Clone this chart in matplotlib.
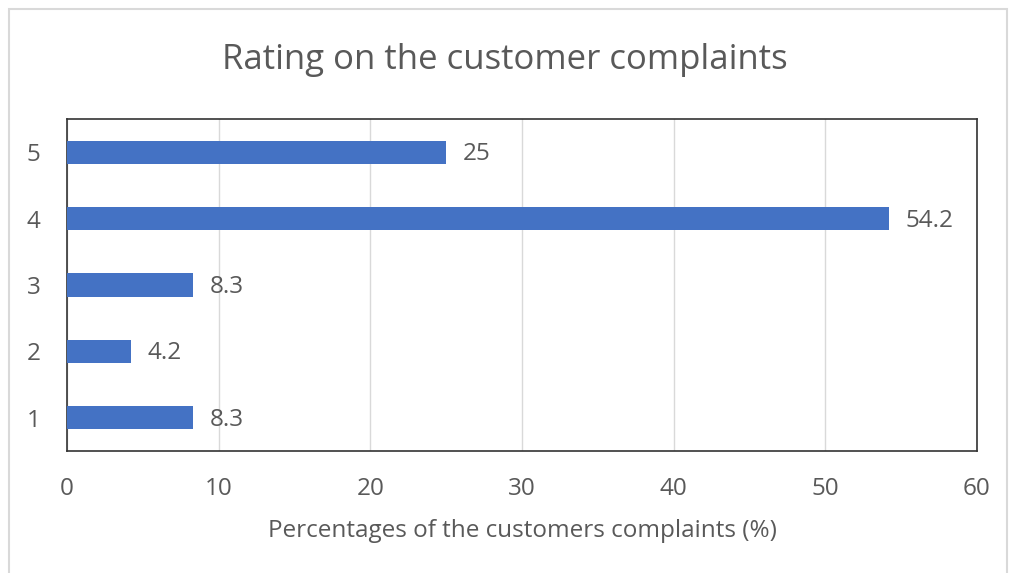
import matplotlib.pyplot as plt
from matplotlib.patches import Rectangle

plt.rcParams['font.family'] = ['Open Sans', 'DejaVu Sans']

ratings = ['1', '2', '3', '4', '5']
percentages = [8.3, 4.2, 8.3, 54.2, 25]
value_labels = ['8.3', '4.2', '8.3', '54.2', '25']

text_color = '#595959'

fig = plt.figure(figsize=(10.1, 5.73), dpi=100)
ax = fig.add_axes([67 / 1010, 1 - 451 / 573, 910 / 1010, 332 / 573])

pos = range(1, len(ratings) + 1)
ax.barh(pos, percentages, height=0.35, color='#4472C4', zorder=3)
for p, v, lab in zip(pos, percentages, value_labels):
    ax.text(v + 1.1, p - 0.03, lab, va='center', ha='left', fontsize=17.5, color=text_color)

ax.set_xlim(0, 60)
ax.set_ylim(0.5, 5.5)
ax.set_xticks(range(0, 61, 10))
ax.set_yticks(list(pos))
ax.set_yticklabels(ratings)
ax.tick_params(length=0, labelsize=17.5, colors=text_color)
ax.tick_params(axis='x', pad=19)
ax.tick_params(axis='y', pad=19)
ax.grid(axis='x', color='#D9D9D9', linewidth=1, zorder=0)
for s in ax.spines.values():
    s.set_color('#333333')
    s.set_linewidth(1.2)

ax.set_xlabel('Percentages of the customers complaints (%)', fontsize=17.5,
              color=text_color, labelpad=13)
fig.text(0.5, 1 - 60 / 573, 'Rating on the customer complaints', ha='center',
         va='center', fontsize=25, color=text_color)

# outer chart border
fig.patches.append(Rectangle((9 / 1010, -0.05), 998 / 1010, 1.05 - 9 / 573,
                             transform=fig.transFigure, fill=False,
                             edgecolor='#D9D9D9', linewidth=1.5))

fig.savefig('out.png', dpi=100)
